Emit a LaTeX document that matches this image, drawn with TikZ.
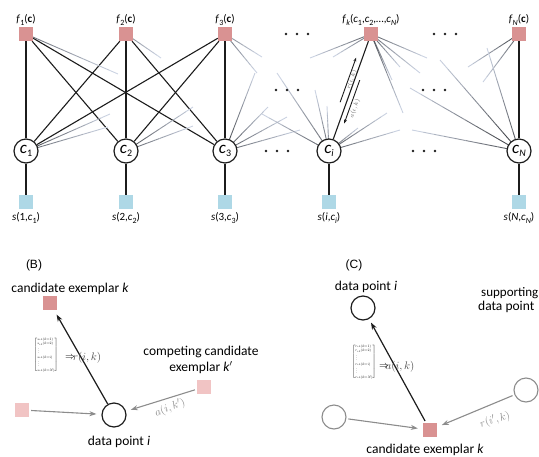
\documentclass[tikz,border=0pt]{standalone}
\usepackage{fontspec}
\usepackage{graphicx}
\setmainfont{Carlito}
\newfontfamily\arialf{Liberation Sans}
\usetikzlibrary{calc,arrows.meta}
\definecolor{fpink}{RGB}{217,146,146}
\definecolor{lpink}{RGB}{241,196,196}
\definecolor{sblue}{RGB}{174,216,230}
\definecolor{fadec}{RGB}{214,222,238}
\definecolor{dk}{RGB}{28,28,28}
\definecolor{gr}{RGB}{140,140,140}
\pgfdeclarelayer{bg}\pgfsetlayers{bg,main}
\newcommand\lsub[1]{\raisebox{-0.45ex}{\fontsize{8}{8}\selectfont #1}}
\newcommand\bsub[1]{\raisebox{-0.45ex}{\fontsize{10}{10}\selectfont #1}}
\newcommand\fadeline[3][80]{%
  \foreach \t in {0,...,9}{%
    \pgfmathsetmacro\pa{\t/10}%
    \pgfmathsetmacro\pb{(\t+1)/10}%
    \pgfmathtruncatemacro\pc{#1-\t*#1/10}%
    \draw[line width=0.9pt, draw=black!\pc!fadec] ($(#2)!\pa!(#3)$) -- ($(#2)!\pb!(#3)$);
  }%
}
\newcommand\tinymat[1]{\scalebox{0.5}{\fontsize{7}{9}\selectfont$\left[\renewcommand\arraystretch{1}\begin{array}{@{}l@{}}
 #1_{ik}(k{=}1)\\ #1_{ik}(k{=}2)\\ \;\vdots\\ #1_{ik}(k{=}i)\\ \;\vdots\\ #1_{ik}(k{=}N)\end{array}\right]$}}
\tikzset{
  fsq/.style={rectangle, fill=fpink, minimum size=14pt, inner sep=0},
  lsq/.style={rectangle, fill=lpink, minimum size=14pt, inner sep=0},
  ssq/.style={rectangle, fill=sblue, minimum size=14pt, inner sep=0},
  var/.style={circle, draw=dk, line width=1.2pt, fill=white, minimum size=24pt, inner sep=0,
     font=\fontsize{17}{17}\selectfont},
  gcirc/.style={circle, draw=gr, line width=1.1pt, fill=white, minimum size=24pt, inner sep=0},
  flbl/.style={font=\fontsize{11}{11}\selectfont, inner sep=0},
  btxt/.style={font=\fontsize{13.5}{16}\selectfont, inner sep=0, align=center},
  hdr/.style={font=\arialf\fontsize{12}{12}\selectfont, inner sep=0},
  edge/.style={draw=dk, line width=1.1pt},
  barrow/.style={draw=dk, line width=1.2pt, -{Stealth[length=7pt,width=5pt]}},
  garrow/.style={draw=gr, line width=1.1pt, -{Stealth[length=7pt,width=5pt]}},
  sarrow/.style={draw=dk, line width=0.9pt, -{Stealth[length=4pt,width=3pt]}},
  mlbl/.style={font=\fontsize{6}{6}\selectfont, text=black!60, inner sep=0},
  glbl/.style={font=\fontsize{11}{11}\selectfont, text=gr, inner sep=0},
}
\begin{document}
\begin{tikzpicture}[x=1pt,y=-1pt]
\useasboundingbox (0,0) rectangle (539,456);
% ---------- top factor graph ----------
\node[fsq] (f1) at (26,34) {};
\node[fsq] (f2) at (126,34) {};
\node[fsq] (f3) at (225,34) {};
\node[fsq] (fk) at (371,34) {};
\node[fsq] (fN) at (519,34) {};
\node[flbl] (lf1) at (26,20) {\textit{f}\lsub{1}(\textbf{c})};
\node[flbl] (lf2) at (126,20) {\textit{f}\lsub{2}(\textbf{c})};
\node[flbl] (lf3) at (225,20) {\textit{f}\lsub{3}(\textbf{c})};
\node[flbl] (lfk) at (371,20) {\textit{f}\lsub{\textit{k}}(\textit{c}\lsub{1},\textit{c}\lsub{2},\dots,\textit{c}\lsub{\textit{N}})};
\node[flbl] (lfN) at (519,20) {\textit{f}\lsub{\textit{N}}(\textbf{c})};

\node[var] (c1) at (26,151) {\textit{c}\bsub{1}};
\node[var] (c2) at (126,151) {\textit{c}\bsub{2}};
\node[var] (c3) at (225,151) {\textit{c}\bsub{3}};
\node[var] (ci) at (329,151) {\textit{c}\bsub{\textit{i}}};
\node[var] (cN) at (519,151) {\textit{c}\bsub{\textit{N}}};

\node[ssq] (s1) at (26,202) {};
\node[ssq] (s2) at (126,202) {};
\node[ssq] (s3) at (225,202) {};
\node[ssq] (si) at (329,202) {};
\node[ssq] (sN) at (519,202) {};
\node[flbl] (ls1) at (26,218) {\textit{s}(1,\textit{c}\lsub{1})};
\node[flbl] (ls2) at (126,218) {\textit{s}(2,\textit{c}\lsub{2})};
\node[flbl] (ls3) at (225,218) {\textit{s}(3,\textit{c}\lsub{3})};
\node[flbl] (lsi) at (329,218) {\textit{s}(\textit{i},\textit{c}\lsub{\textit{i}})};
\node[flbl] (lsN) at (519,218) {\textit{s}(\textit{N},\textit{c}\lsub{\textit{N}})};

\foreach \x/\y in {297/34,445/34,287/90,434/90,277/151,424/151}{
  \foreach \d in {-11,0,11}{\fill[dk] (\x+\d,\y) circle (1.4pt);}
}

\begin{pgfonlayer}{bg}
\foreach \f in {f1,f2,f3}{\foreach \c in {c1,c2,c3}{\draw[edge] (\f) -- (\c);}}
\draw[edge] (fk) -- (ci);
\draw[edge] (fN) -- (cN);
\foreach \c/\s in {c1/s1,c2/s2,c3/s3,ci/si,cN/sN}{\draw[edge] (\c) -- (\s);}
% fading half edges
\fadeline[50]{f1}{118,74}
\fadeline[40]{f2}{161,58}
\fadeline[50]{f3}{257,73}
\fadeline[40]{f3}{262,57}
\fadeline[65]{c1}{110,114}
\fadeline[55]{c1}{108,127}
\fadeline[65]{c2}{193,107}
\fadeline[55]{c2}{193,126}
\fadeline[70]{c3}{255,73}
\fadeline[65]{c3}{268,107}
\fadeline[60]{c3}{287,117}
\fadeline[55]{c3}{300,130}
\fadeline[55]{ci}{277,73}
\fadeline[55]{ci}{315,90}
\fadeline[50]{ci}{327,106}
\fadeline[60]{ci}{262,114}
\fadeline[70]{ci}{358,128}
\fadeline[65]{ci}{387,113}
\fadeline[60]{ci}{400,130}
\fadeline[55]{fk}{310,58}
\fadeline[50]{fk}{333,57}
\fadeline[65]{fk}{392,80}
\fadeline[60]{fk}{400,67}
\fadeline[55]{fk}{427,58}
\fadeline[50]{fk}{420,73}
\fadeline[65]{fk}{403,113}
\fadeline[70]{fN}{468,67}
\fadeline[60]{fN}{483,82}
\fadeline[75]{cN}{440,60}
\fadeline[75]{cN}{410,88}
\fadeline[65]{cN}{412,130}
\fadeline[65]{cN}{487,48}
\end{pgfonlayer}

% messages along fk -- ci
\coordinate (a1s) at ($(ci)!0.40!(fk)!6pt!90:(fk)$);
\coordinate (a1e) at ($(ci)!0.78!(fk)!6pt!90:(fk)$);
\coordinate (a2s) at ($(ci)!0.62!(fk)!5pt!-90:(fk)$);
\coordinate (a2e) at ($(ci)!0.25!(fk)!5pt!-90:(fk)$);
\draw[sarrow] (a1s) -- (a1e);
\draw[sarrow] (a2s) -- (a2e);
\node[mlbl, rotate=70.3] (rlab) at ($(ci)!0.60!(fk)!2.6pt!90:(fk)$) {$r(i,k)$};
\node[mlbl, rotate=70.3] (alab) at ($(ci)!0.39!(fk)!10pt!-90:(fk)$) {$a(i,k)$};

% ---------- panel B ----------
\node[hdr] (hB) at (34,265) {(B)};
\node[btxt] (tck) at (70,289) {candidate exemplar \textit{k}};
\node[fsq] (exk) at (50,303) {};
\node[var] (dpi) at (114,415) {};
\node[btxt] (tdpi) at (119,442) {data point \textit{i}};
\node[lsq] (lsqB) at (22,410) {};
\node[lsq] (rsqB) at (204,387) {};
\node[btxt] (tcomp) at (201,360) {competing candidate\\exemplar \textit{k}$'$};
\draw[barrow, shorten >=5pt] (dpi) -- (exk);
\draw[garrow, shorten >=5pt, shorten <=2pt] (lsqB) -- (dpi);
\draw[garrow, shorten >=5pt, shorten <=2pt] (rsqB) -- (dpi);
\node[glbl, rotate=22] (laik) at (170,408) {$a(i,k')$};
\node[inner sep=0] (matB) at (46,355) {\tinymat{s}};
\node[inner sep=0, font=\fontsize{10}{10}\selectfont] (impB) at (70,358) {$\Rightarrow$};
\node[inner sep=0, font=\fontsize{11}{11}\selectfont, text=dk!80] (rB) at (87,358) {$r(i,k)$};

% ---------- panel C ----------
\node[hdr] (hC) at (354,265) {(C)};
\node[btxt] (tdpiC) at (366,287) {data point \textit{i}};
\node[var] (dpiC) at (363,308) {};
\node[btxt, anchor=west, font=\fontsize{13}{16}\selectfont] (tsup1) at (481,293) {supporting};
\node[btxt, anchor=west] (tsup2) at (478,307) {data point};
\node[gcirc] (gcr) at (526,390) {};
\node[gcirc] (gcl) at (334,417) {};
\node[fsq] (exkC) at (430,430) {};
\node[btxt] (tckC) at (425,450) {candidate exemplar \textit{k}};
\draw[barrow, shorten >=4pt, shorten <=2pt] (exkC) -- (dpiC);
\draw[garrow, shorten >=5pt, shorten <=2pt] (gcl) -- (exkC);
\draw[garrow, shorten >=5pt, shorten <=2pt] (gcr) -- (exkC);
\node[glbl, rotate=18] (lrik) at (495,420) {$r(i',k)$};
\node[inner sep=0] (matC) at (364,362) {\tinymat{r}};
\node[inner sep=0, font=\fontsize{10}{10}\selectfont] (impC) at (384,367) {$\Rightarrow$};
\node[inner sep=0, font=\fontsize{11}{11}\selectfont, text=dk!80] (aC) at (400,367) {$a(i,k)$};
\end{tikzpicture}
\end{document}
